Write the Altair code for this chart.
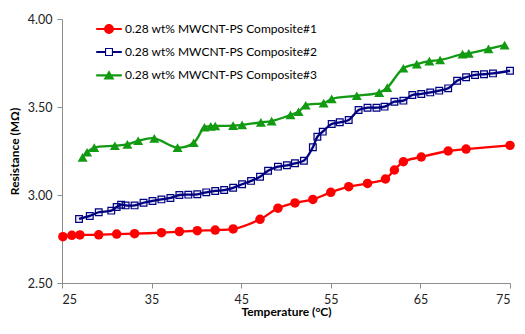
import altair as alt
import pandas as pd

names = ["0.28 wt% MWCNT-PS Composite#1",
         "0.28 wt% MWCNT-PS Composite#2",
         "0.28 wt% MWCNT-PS Composite#3"]
colors = ["#ff0000", "#000080", "#129a12"]

x_ticks = [25, 35, 45, 55, 65, 75]
y_ticks = [2.5, 3.0, 3.5, 4.0]

# Composite #1 (red, circles)
T1 = [25.1, 26.1, 27.0, 29.1, 31.1, 33.1, 36.1, 38.1, 40.1, 42.1, 44.1, 47.1,
      49.1, 51.0, 53.0, 55.0, 57.0, 59.1, 61.1, 62.1, 63.1, 65.1, 68.1, 70.1, 75.0]
R1 = [2.763, 2.771, 2.773, 2.774, 2.778, 2.780, 2.786, 2.792, 2.797, 2.801, 2.807, 2.862,
      2.925, 2.955, 2.975, 3.015, 3.047, 3.066, 3.091, 3.142, 3.189, 3.216, 3.250, 3.261, 3.282]

# Composite #2 (navy, squares)
T2 = [26.9, 28.1, 29.1, 30.5, 31.1, 31.6, 32.1, 33.1, 34.1, 35.1, 36.1, 37.1, 38.1,
      39.1, 40.1, 41.1, 42.1, 43.1, 44.1, 45.1, 46.1, 47.1, 48.0, 49.1, 50.1, 51.0,
      52.0, 53.0, 53.5, 54.1, 55.1, 56.0, 57.0, 58.1, 59.1, 60.1, 61.0, 62.1, 63.1,
      64.1, 65.1, 66.1, 67.1, 68.1, 69.1, 70.1, 71.1, 72.1, 73.1, 75.0]
R2 = [2.864, 2.881, 2.902, 2.911, 2.932, 2.945, 2.941, 2.941, 2.956, 2.966, 2.975, 2.983, 3.000,
      3.002, 3.004, 3.015, 3.023, 3.028, 3.041, 3.061, 3.080, 3.104, 3.138, 3.161, 3.169, 3.180,
      3.195, 3.271, 3.331, 3.360, 3.403, 3.413, 3.426, 3.483, 3.496, 3.496, 3.502, 3.530, 3.536,
      3.568, 3.574, 3.583, 3.593, 3.606, 3.649, 3.669, 3.682, 3.686, 3.691, 3.706]

# Composite #3 (green, triangles)
T3 = [27.3, 27.8, 28.6, 30.9, 32.3, 33.5, 35.3, 37.9, 39.7, 40.9, 41.6, 42.1, 44.1, 45.1,
      47.2, 48.4, 50.5, 51.4, 52.2, 54.2, 55.1, 57.9, 60.4, 61.3, 63.1, 64.6, 66.0, 67.2,
      69.7, 70.4, 72.6, 74.4]
R3 = [3.214, 3.243, 3.269, 3.280, 3.288, 3.308, 3.322, 3.269, 3.297, 3.385, 3.390, 3.392, 3.394, 3.398,
      3.413, 3.420, 3.455, 3.473, 3.510, 3.522, 3.546, 3.564, 3.582, 3.610, 3.720, 3.744, 3.761, 3.767,
      3.800, 3.805, 3.830, 3.852]

rows = []
for name, ts, rs in zip(names, [T1, T2, T3], [R1, R2, R3]):
    for t, r in zip(ts, rs):
        rows.append({"T": t, "R": r, "series": name})
df = pd.DataFrame(rows)

FONT = "Lato"

x_enc = alt.X("T:Q",
              scale=alt.Scale(domain=[25, 75], nice=False, zero=False),
              axis=alt.Axis(values=x_ticks, title="Temperature (°C)", labelPadding=5,
                            titlePadding=1))
y_enc = alt.Y("R:Q",
              scale=alt.Scale(domain=[2.5, 4.0], nice=False, zero=False),
              axis=alt.Axis(values=y_ticks, format=".2f", title="Resistance (MΩ)",
                            labelPadding=5, titlePadding=6))

color_scale = alt.Scale(domain=names, range=colors)

# legend symbols: a short line drawn as a thin filled bar, plus the marker
bar_l = "M-1.6,-0.13H-0.5V0.13H-1.6Z"
bar_r = "M0.5,-0.13H1.6V0.13H0.5Z"
circle_path = ("M-1.6,-0.13H1.6V0.13H-1.6Z"
               "M0.62,0A0.62,0.62,0,1,1,-0.62,0A0.62,0.62,0,1,1,0.62,0Z")
square_path = (bar_l + bar_r +
               "M-0.5,-0.5H0.5V0.5H-0.5Z"
               "M-0.36,-0.36V0.36H0.36V-0.36Z")
triangle_path = ("M-1.6,-0.08H1.6V0.18H-1.6Z"
                 "M0,-0.6L0.68,0.55L-0.68,0.55Z")

legend = alt.Legend(title=None, orient="none", legendX=39, legendY=2,
                    symbolSize=256, symbolOpacity=1, symbolStrokeWidth=0,
                    labelFont=FONT, labelFontSize=12, labelColor="black",
                    labelLimit=400, labelOffset=8, rowPadding=9)

base = alt.Chart(df)

# invisible point layer that only carries the legend (first, so its legend wins)
leg_layer = base.mark_point(opacity=0, filled=True).encode(
    x=x_enc, y=y_enc,
    color=alt.Color("series:N", scale=color_scale, legend=legend),
    shape=alt.Shape("series:N",
                    scale=alt.Scale(domain=names, range=[circle_path, square_path, triangle_path]),
                    legend=legend),
)

lines = base.mark_line(interpolate="catmull-rom", strokeWidth=2.3).encode(
    x=x_enc, y=y_enc,
    color=alt.Color("series:N", scale=color_scale, legend=legend),
)

pts1 = base.transform_filter(alt.datum.series == names[0]).mark_point(
    shape="circle", size=90, filled=True, color=colors[0], opacity=1
).encode(x=x_enc, y=y_enc)

pts2 = base.transform_filter(alt.datum.series == names[1]).mark_point(
    shape="square", size=45, filled=False, stroke=colors[1], fill="#000080",
    fillOpacity=0.08, strokeWidth=1.2, opacity=1
).encode(x=x_enc, y=y_enc)

pts3 = base.transform_filter(alt.datum.series == names[2]).mark_point(
    shape="triangle-up", size=100, filled=True, color=colors[2], opacity=1
).encode(x=x_enc, y=y_enc)

chart = alt.layer(leg_layer, lines, pts1, pts2, pts3).properties(
    width=448, height=264,
    autosize=alt.AutoSizeParams(type="none"),
    padding={"left": 54, "top": 11, "right": 7, "bottom": 37},
).configure_view(stroke=None).configure_axis(
    grid=False, domainColor="#8c8c8c", tickColor="#8c8c8c", tickSize=5,
    labelFont=FONT, labelFontSize=12.5, labelColor="#222222",
    titleFont=FONT, titleFontSize=12, titleFontWeight="bold", titleColor="black",
)

chart.save("out.html", embed_options={"renderer": "svg", "actions": False})
